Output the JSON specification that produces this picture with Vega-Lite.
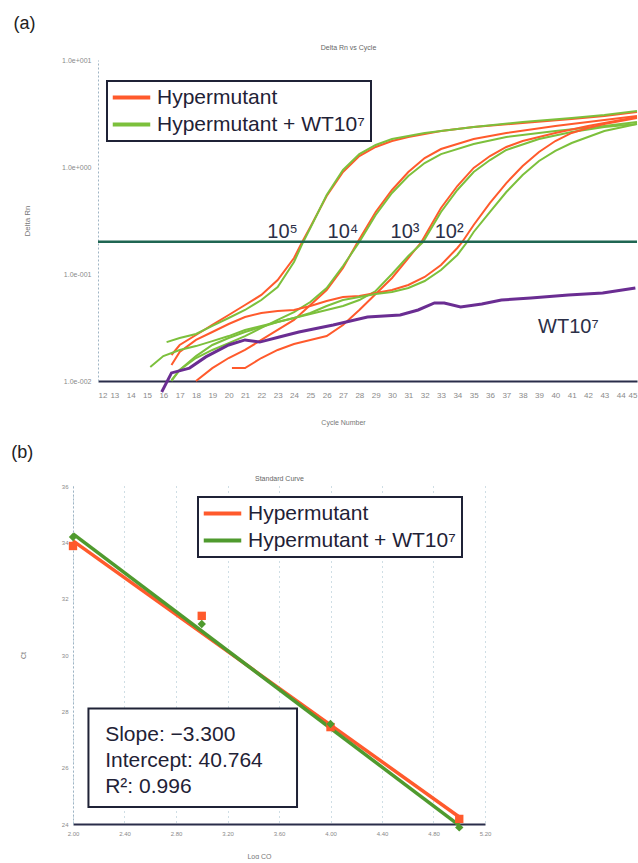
{
  "$schema": "https://vega.github.io/schema/vega-lite/v6.json",
  "background": "white",
  "padding": {"left": 11, "top": 15, "right": 0, "bottom": 0},
  "spacing": 19,
  "config": {
    "view": {"stroke": null},
    "font": "Liberation Sans",
    "axis": {"labelFont": "Liberation Sans", "titleFont": "Liberation Sans", "grid": false, "titleFontWeight": "normal"},
    "legend": {"labelFont": "Liberation Sans"},
    "title": {"font": "Liberation Sans"}
  },
  "resolve": {"scale": {"color": "independent"}, "legend": {"color": "independent"}},
  "datasets": {
    "curves": [
      {"series": "Hypermutant", "dilution": "1e5", "cycle": 16.5, "rn": 0.0175},
      {"series": "Hypermutant", "dilution": "1e5", "cycle": 17, "rn": 0.0217},
      {"series": "Hypermutant", "dilution": "1e5", "cycle": 18, "rn": 0.0269},
      {"series": "Hypermutant", "dilution": "1e5", "cycle": 19, "rn": 0.0334},
      {"series": "Hypermutant", "dilution": "1e5", "cycle": 20, "rn": 0.0414},
      {"series": "Hypermutant", "dilution": "1e5", "cycle": 21, "rn": 0.0513},
      {"series": "Hypermutant", "dilution": "1e5", "cycle": 22, "rn": 0.0637},
      {"series": "Hypermutant", "dilution": "1e5", "cycle": 23, "rn": 0.0879},
      {"series": "Hypermutant", "dilution": "1e5", "cycle": 24, "rn": 0.141},
      {"series": "Hypermutant", "dilution": "1e5", "cycle": 24.5, "rn": 0.199},
      {"series": "Hypermutant", "dilution": "1e5", "cycle": 25, "rn": 0.275},
      {"series": "Hypermutant", "dilution": "1e5", "cycle": 26, "rn": 0.536},
      {"series": "Hypermutant", "dilution": "1e5", "cycle": 27, "rn": 0.897},
      {"series": "Hypermutant", "dilution": "1e5", "cycle": 28, "rn": 1.267},
      {"series": "Hypermutant", "dilution": "1e5", "cycle": 29, "rn": 1.538},
      {"series": "Hypermutant", "dilution": "1e5", "cycle": 30, "rn": 1.75},
      {"series": "Hypermutant", "dilution": "1e5", "cycle": 31, "rn": 1.905},
      {"series": "Hypermutant", "dilution": "1e5", "cycle": 33, "rn": 2.168},
      {"series": "Hypermutant", "dilution": "1e5", "cycle": 35, "rn": 2.366},
      {"series": "Hypermutant", "dilution": "1e5", "cycle": 38, "rn": 2.576},
      {"series": "Hypermutant", "dilution": "1e5", "cycle": 41, "rn": 2.812},
      {"series": "Hypermutant", "dilution": "1e5", "cycle": 43, "rn": 3.0},
      {"series": "Hypermutant", "dilution": "1e5", "cycle": 45, "rn": 3.266},

      {"series": "Hypermutant + WT10⁷", "dilution": "1e5", "cycle": 16.2, "rn": 0.0231},
      {"series": "Hypermutant + WT10⁷", "dilution": "1e5", "cycle": 17, "rn": 0.0252},
      {"series": "Hypermutant + WT10⁷", "dilution": "1e5", "cycle": 18, "rn": 0.0275},
      {"series": "Hypermutant + WT10⁷", "dilution": "1e5", "cycle": 19, "rn": 0.0327},
      {"series": "Hypermutant + WT10⁷", "dilution": "1e5", "cycle": 20, "rn": 0.0388},
      {"series": "Hypermutant + WT10⁷", "dilution": "1e5", "cycle": 21, "rn": 0.0461},
      {"series": "Hypermutant + WT10⁷", "dilution": "1e5", "cycle": 22, "rn": 0.0571},
      {"series": "Hypermutant + WT10⁷", "dilution": "1e5", "cycle": 23, "rn": 0.0756},
      {"series": "Hypermutant + WT10⁷", "dilution": "1e5", "cycle": 24, "rn": 0.1295},
      {"series": "Hypermutant + WT10⁷", "dilution": "1e5", "cycle": 24.5, "rn": 0.19},
      {"series": "Hypermutant + WT10⁷", "dilution": "1e5", "cycle": 25, "rn": 0.269},
      {"series": "Hypermutant + WT10⁷", "dilution": "1e5", "cycle": 26, "rn": 0.547},
      {"series": "Hypermutant + WT10⁷", "dilution": "1e5", "cycle": 27, "rn": 0.938},
      {"series": "Hypermutant + WT10⁷", "dilution": "1e5", "cycle": 28, "rn": 1.321},
      {"series": "Hypermutant + WT10⁷", "dilution": "1e5", "cycle": 29, "rn": 1.607},
      {"series": "Hypermutant + WT10⁷", "dilution": "1e5", "cycle": 30, "rn": 1.828},
      {"series": "Hypermutant + WT10⁷", "dilution": "1e5", "cycle": 32, "rn": 2.08},
      {"series": "Hypermutant + WT10⁷", "dilution": "1e5", "cycle": 35, "rn": 2.366},
      {"series": "Hypermutant + WT10⁷", "dilution": "1e5", "cycle": 38, "rn": 2.636},
      {"series": "Hypermutant + WT10⁷", "dilution": "1e5", "cycle": 41, "rn": 2.871},
      {"series": "Hypermutant + WT10⁷", "dilution": "1e5", "cycle": 43, "rn": 3.062},
      {"series": "Hypermutant + WT10⁷", "dilution": "1e5", "cycle": 45, "rn": 3.334},

      {"series": "Hypermutant", "dilution": "1e4", "cycle": 18, "rn": 0.01},
      {"series": "Hypermutant", "dilution": "1e4", "cycle": 19, "rn": 0.0132},
      {"series": "Hypermutant", "dilution": "1e4", "cycle": 20, "rn": 0.0164},
      {"series": "Hypermutant", "dilution": "1e4", "cycle": 21, "rn": 0.0195},
      {"series": "Hypermutant", "dilution": "1e4", "cycle": 22, "rn": 0.0242},
      {"series": "Hypermutant", "dilution": "1e4", "cycle": 23, "rn": 0.03},
      {"series": "Hypermutant", "dilution": "1e4", "cycle": 24, "rn": 0.0372},
      {"series": "Hypermutant", "dilution": "1e4", "cycle": 25, "rn": 0.0513},
      {"series": "Hypermutant", "dilution": "1e4", "cycle": 26, "rn": 0.0708},
      {"series": "Hypermutant", "dilution": "1e4", "cycle": 27, "rn": 0.1138},
      {"series": "Hypermutant", "dilution": "1e4", "cycle": 27.9, "rn": 0.199},
      {"series": "Hypermutant", "dilution": "1e4", "cycle": 29, "rn": 0.38},
      {"series": "Hypermutant", "dilution": "1e4", "cycle": 30, "rn": 0.61},
      {"series": "Hypermutant", "dilution": "1e4", "cycle": 31, "rn": 0.897},
      {"series": "Hypermutant", "dilution": "1e4", "cycle": 32, "rn": 1.213},
      {"series": "Hypermutant", "dilution": "1e4", "cycle": 33, "rn": 1.472},
      {"series": "Hypermutant", "dilution": "1e4", "cycle": 35, "rn": 1.828},
      {"series": "Hypermutant", "dilution": "1e4", "cycle": 37, "rn": 2.08},
      {"series": "Hypermutant", "dilution": "1e4", "cycle": 40, "rn": 2.415},
      {"series": "Hypermutant", "dilution": "1e4", "cycle": 43, "rn": 2.748},
      {"series": "Hypermutant", "dilution": "1e4", "cycle": 45, "rn": 3.0},

      {"series": "Hypermutant + WT10⁷", "dilution": "1e4", "cycle": 16.5, "rn": 0.0102},
      {"series": "Hypermutant + WT10⁷", "dilution": "1e4", "cycle": 17, "rn": 0.0127},
      {"series": "Hypermutant + WT10⁷", "dilution": "1e4", "cycle": 18, "rn": 0.0164},
      {"series": "Hypermutant + WT10⁷", "dilution": "1e4", "cycle": 19, "rn": 0.0195},
      {"series": "Hypermutant + WT10⁷", "dilution": "1e4", "cycle": 20, "rn": 0.0226},
      {"series": "Hypermutant + WT10⁷", "dilution": "1e4", "cycle": 21, "rn": 0.0263},
      {"series": "Hypermutant + WT10⁷", "dilution": "1e4", "cycle": 22, "rn": 0.0313},
      {"series": "Hypermutant + WT10⁷", "dilution": "1e4", "cycle": 23, "rn": 0.0372},
      {"series": "Hypermutant + WT10⁷", "dilution": "1e4", "cycle": 24, "rn": 0.0441},
      {"series": "Hypermutant + WT10⁷", "dilution": "1e4", "cycle": 25, "rn": 0.0547},
      {"series": "Hypermutant + WT10⁷", "dilution": "1e4", "cycle": 26, "rn": 0.074},
      {"series": "Hypermutant + WT10⁷", "dilution": "1e4", "cycle": 27, "rn": 0.1188},
      {"series": "Hypermutant + WT10⁷", "dilution": "1e4", "cycle": 28, "rn": 0.199},
      {"series": "Hypermutant + WT10⁷", "dilution": "1e4", "cycle": 29, "rn": 0.356},
      {"series": "Hypermutant + WT10⁷", "dilution": "1e4", "cycle": 30, "rn": 0.5715},
      {"series": "Hypermutant + WT10⁷", "dilution": "1e4", "cycle": 31, "rn": 0.824},
      {"series": "Hypermutant + WT10⁷", "dilution": "1e4", "cycle": 32, "rn": 1.089},
      {"series": "Hypermutant + WT10⁷", "dilution": "1e4", "cycle": 33, "rn": 1.321},
      {"series": "Hypermutant + WT10⁷", "dilution": "1e4", "cycle": 35, "rn": 1.641},
      {"series": "Hypermutant + WT10⁷", "dilution": "1e4", "cycle": 37, "rn": 1.905},
      {"series": "Hypermutant + WT10⁷", "dilution": "1e4", "cycle": 40, "rn": 2.168},
      {"series": "Hypermutant + WT10⁷", "dilution": "1e4", "cycle": 43, "rn": 2.415},
      {"series": "Hypermutant + WT10⁷", "dilution": "1e4", "cycle": 45, "rn": 2.636},

      {"series": "Hypermutant", "dilution": "1e3", "cycle": 20.2, "rn": 0.0132},
      {"series": "Hypermutant", "dilution": "1e3", "cycle": 21, "rn": 0.0132},
      {"series": "Hypermutant", "dilution": "1e3", "cycle": 22, "rn": 0.0164},
      {"series": "Hypermutant", "dilution": "1e3", "cycle": 23, "rn": 0.0195},
      {"series": "Hypermutant", "dilution": "1e3", "cycle": 24, "rn": 0.0222},
      {"series": "Hypermutant", "dilution": "1e3", "cycle": 25, "rn": 0.0242},
      {"series": "Hypermutant", "dilution": "1e3", "cycle": 26, "rn": 0.0263},
      {"series": "Hypermutant", "dilution": "1e3", "cycle": 27, "rn": 0.0334},
      {"series": "Hypermutant", "dilution": "1e3", "cycle": 28, "rn": 0.0461},
      {"series": "Hypermutant", "dilution": "1e3", "cycle": 29, "rn": 0.065},
      {"series": "Hypermutant", "dilution": "1e3", "cycle": 30, "rn": 0.0918},
      {"series": "Hypermutant", "dilution": "1e3", "cycle": 31, "rn": 0.141},
      {"series": "Hypermutant", "dilution": "1e3", "cycle": 31.8, "rn": 0.199},
      {"series": "Hypermutant", "dilution": "1e3", "cycle": 33, "rn": 0.414},
      {"series": "Hypermutant", "dilution": "1e3", "cycle": 34, "rn": 0.664},
      {"series": "Hypermutant", "dilution": "1e3", "cycle": 35, "rn": 0.98},
      {"series": "Hypermutant", "dilution": "1e3", "cycle": 36, "rn": 1.267},
      {"series": "Hypermutant", "dilution": "1e3", "cycle": 37, "rn": 1.538},
      {"series": "Hypermutant", "dilution": "1e3", "cycle": 38, "rn": 1.75},
      {"series": "Hypermutant", "dilution": "1e3", "cycle": 40, "rn": 2.08},
      {"series": "Hypermutant", "dilution": "1e3", "cycle": 42, "rn": 2.415},
      {"series": "Hypermutant", "dilution": "1e3", "cycle": 45, "rn": 2.931},

      {"series": "Hypermutant + WT10⁷", "dilution": "1e3", "cycle": 16.5, "rn": 0.01},
      {"series": "Hypermutant + WT10⁷", "dilution": "1e3", "cycle": 17, "rn": 0.0127},
      {"series": "Hypermutant + WT10⁷", "dilution": "1e3", "cycle": 18, "rn": 0.0171},
      {"series": "Hypermutant + WT10⁷", "dilution": "1e3", "cycle": 19, "rn": 0.0217},
      {"series": "Hypermutant + WT10⁷", "dilution": "1e3", "cycle": 20, "rn": 0.0252},
      {"series": "Hypermutant + WT10⁷", "dilution": "1e3", "cycle": 21, "rn": 0.0287},
      {"series": "Hypermutant + WT10⁷", "dilution": "1e3", "cycle": 22, "rn": 0.032},
      {"series": "Hypermutant + WT10⁷", "dilution": "1e3", "cycle": 23, "rn": 0.0356},
      {"series": "Hypermutant + WT10⁷", "dilution": "1e3", "cycle": 24, "rn": 0.0388},
      {"series": "Hypermutant + WT10⁷", "dilution": "1e3", "cycle": 25, "rn": 0.0423},
      {"series": "Hypermutant + WT10⁷", "dilution": "1e3", "cycle": 26, "rn": 0.0461},
      {"series": "Hypermutant + WT10⁷", "dilution": "1e3", "cycle": 27, "rn": 0.0502},
      {"series": "Hypermutant + WT10⁷", "dilution": "1e3", "cycle": 28, "rn": 0.0571},
      {"series": "Hypermutant + WT10⁷", "dilution": "1e3", "cycle": 29, "rn": 0.0693},
      {"series": "Hypermutant + WT10⁷", "dilution": "1e3", "cycle": 30, "rn": 0.1},
      {"series": "Hypermutant + WT10⁷", "dilution": "1e3", "cycle": 31, "rn": 0.1473},
      {"series": "Hypermutant + WT10⁷", "dilution": "1e3", "cycle": 31.9, "rn": 0.199},
      {"series": "Hypermutant + WT10⁷", "dilution": "1e3", "cycle": 33, "rn": 0.38},
      {"series": "Hypermutant + WT10⁷", "dilution": "1e3", "cycle": 34, "rn": 0.61},
      {"series": "Hypermutant + WT10⁷", "dilution": "1e3", "cycle": 35, "rn": 0.897},
      {"series": "Hypermutant + WT10⁷", "dilution": "1e3", "cycle": 36, "rn": 1.161},
      {"series": "Hypermutant + WT10⁷", "dilution": "1e3", "cycle": 37, "rn": 1.442},
      {"series": "Hypermutant + WT10⁷", "dilution": "1e3", "cycle": 39, "rn": 1.828},
      {"series": "Hypermutant + WT10⁷", "dilution": "1e3", "cycle": 41, "rn": 2.123},
      {"series": "Hypermutant + WT10⁷", "dilution": "1e3", "cycle": 43, "rn": 2.366},
      {"series": "Hypermutant + WT10⁷", "dilution": "1e3", "cycle": 45, "rn": 2.523},

      {"series": "Hypermutant", "dilution": "1e2", "cycle": 16.5, "rn": 0.0141},
      {"series": "Hypermutant", "dilution": "1e2", "cycle": 17, "rn": 0.0187},
      {"series": "Hypermutant", "dilution": "1e2", "cycle": 18, "rn": 0.0242},
      {"series": "Hypermutant", "dilution": "1e2", "cycle": 19, "rn": 0.0287},
      {"series": "Hypermutant", "dilution": "1e2", "cycle": 20, "rn": 0.0341},
      {"series": "Hypermutant", "dilution": "1e2", "cycle": 21, "rn": 0.0396},
      {"series": "Hypermutant", "dilution": "1e2", "cycle": 22, "rn": 0.0432},
      {"series": "Hypermutant", "dilution": "1e2", "cycle": 23, "rn": 0.0451},
      {"series": "Hypermutant", "dilution": "1e2", "cycle": 24, "rn": 0.0461},
      {"series": "Hypermutant", "dilution": "1e2", "cycle": 25, "rn": 0.0502},
      {"series": "Hypermutant", "dilution": "1e2", "cycle": 26, "rn": 0.0559},
      {"series": "Hypermutant", "dilution": "1e2", "cycle": 27, "rn": 0.061},
      {"series": "Hypermutant", "dilution": "1e2", "cycle": 28, "rn": 0.0623},
      {"series": "Hypermutant", "dilution": "1e2", "cycle": 29, "rn": 0.0664},
      {"series": "Hypermutant", "dilution": "1e2", "cycle": 30, "rn": 0.0708},
      {"series": "Hypermutant", "dilution": "1e2", "cycle": 31, "rn": 0.0789},
      {"series": "Hypermutant", "dilution": "1e2", "cycle": 32, "rn": 0.0938},
      {"series": "Hypermutant", "dilution": "1e2", "cycle": 33, "rn": 0.1214},
      {"series": "Hypermutant", "dilution": "1e2", "cycle": 34, "rn": 0.175},
      {"series": "Hypermutant", "dilution": "1e2", "cycle": 34.3, "rn": 0.199},
      {"series": "Hypermutant", "dilution": "1e2", "cycle": 35, "rn": 0.287},
      {"series": "Hypermutant", "dilution": "1e2", "cycle": 36, "rn": 0.461},
      {"series": "Hypermutant", "dilution": "1e2", "cycle": 37, "rn": 0.708},
      {"series": "Hypermutant", "dilution": "1e2", "cycle": 38, "rn": 1.021},
      {"series": "Hypermutant", "dilution": "1e2", "cycle": 39, "rn": 1.38},
      {"series": "Hypermutant", "dilution": "1e2", "cycle": 40, "rn": 1.75},
      {"series": "Hypermutant", "dilution": "1e2", "cycle": 41, "rn": 2.08},
      {"series": "Hypermutant", "dilution": "1e2", "cycle": 42, "rn": 2.312},
      {"series": "Hypermutant", "dilution": "1e2", "cycle": 43, "rn": 2.523},
      {"series": "Hypermutant", "dilution": "1e2", "cycle": 45, "rn": 2.871},

      {"series": "Hypermutant + WT10⁷", "dilution": "1e2", "cycle": 15.2, "rn": 0.0135},
      {"series": "Hypermutant + WT10⁷", "dilution": "1e2", "cycle": 16, "rn": 0.0171},
      {"series": "Hypermutant + WT10⁷", "dilution": "1e2", "cycle": 17, "rn": 0.0195},
      {"series": "Hypermutant + WT10⁷", "dilution": "1e2", "cycle": 18, "rn": 0.0212},
      {"series": "Hypermutant + WT10⁷", "dilution": "1e2", "cycle": 19, "rn": 0.0236},
      {"series": "Hypermutant + WT10⁷", "dilution": "1e2", "cycle": 20, "rn": 0.0263},
      {"series": "Hypermutant + WT10⁷", "dilution": "1e2", "cycle": 21, "rn": 0.03},
      {"series": "Hypermutant + WT10⁷", "dilution": "1e2", "cycle": 22, "rn": 0.0327},
      {"series": "Hypermutant + WT10⁷", "dilution": "1e2", "cycle": 23, "rn": 0.0356},
      {"series": "Hypermutant + WT10⁷", "dilution": "1e2", "cycle": 24, "rn": 0.0388},
      {"series": "Hypermutant + WT10⁷", "dilution": "1e2", "cycle": 25, "rn": 0.0432},
      {"series": "Hypermutant + WT10⁷", "dilution": "1e2", "cycle": 26, "rn": 0.0502},
      {"series": "Hypermutant + WT10⁷", "dilution": "1e2", "cycle": 27, "rn": 0.0571},
      {"series": "Hypermutant + WT10⁷", "dilution": "1e2", "cycle": 28, "rn": 0.061},
      {"series": "Hypermutant + WT10⁷", "dilution": "1e2", "cycle": 29, "rn": 0.065},
      {"series": "Hypermutant + WT10⁷", "dilution": "1e2", "cycle": 30, "rn": 0.0679},
      {"series": "Hypermutant + WT10⁷", "dilution": "1e2", "cycle": 31, "rn": 0.074},
      {"series": "Hypermutant + WT10⁷", "dilution": "1e2", "cycle": 32, "rn": 0.086},
      {"series": "Hypermutant + WT10⁷", "dilution": "1e2", "cycle": 33, "rn": 0.109},
      {"series": "Hypermutant + WT10⁷", "dilution": "1e2", "cycle": 34, "rn": 0.1506},
      {"series": "Hypermutant + WT10⁷", "dilution": "1e2", "cycle": 34.6, "rn": 0.199},
      {"series": "Hypermutant + WT10⁷", "dilution": "1e2", "cycle": 35, "rn": 0.247},
      {"series": "Hypermutant + WT10⁷", "dilution": "1e2", "cycle": 36, "rn": 0.38},
      {"series": "Hypermutant + WT10⁷", "dilution": "1e2", "cycle": 37, "rn": 0.584},
      {"series": "Hypermutant + WT10⁷", "dilution": "1e2", "cycle": 38, "rn": 0.841},
      {"series": "Hypermutant + WT10⁷", "dilution": "1e2", "cycle": 39, "rn": 1.138},
      {"series": "Hypermutant + WT10⁷", "dilution": "1e2", "cycle": 40, "rn": 1.413},
      {"series": "Hypermutant + WT10⁷", "dilution": "1e2", "cycle": 41, "rn": 1.675},
      {"series": "Hypermutant + WT10⁷", "dilution": "1e2", "cycle": 42, "rn": 1.905},
      {"series": "Hypermutant + WT10⁷", "dilution": "1e2", "cycle": 43, "rn": 2.168},
      {"series": "Hypermutant + WT10⁷", "dilution": "1e2", "cycle": 45, "rn": 2.523}
    ],
    "wt": [
      {"cycle": 15.9, "rn": 0.0079},
      {"cycle": 16.5, "rn": 0.0119},
      {"cycle": 17.6, "rn": 0.0132},
      {"cycle": 18.6, "rn": 0.0168},
      {"cycle": 20, "rn": 0.0217},
      {"cycle": 21, "rn": 0.0242},
      {"cycle": 21.9, "rn": 0.0231},
      {"cycle": 23.1, "rn": 0.0258},
      {"cycle": 24.3, "rn": 0.0287},
      {"cycle": 26.4, "rn": 0.0334},
      {"cycle": 28.5, "rn": 0.0396},
      {"cycle": 30.5, "rn": 0.0414},
      {"cycle": 31.6, "rn": 0.0461},
      {"cycle": 32.6, "rn": 0.0536},
      {"cycle": 33.2, "rn": 0.0536},
      {"cycle": 34.2, "rn": 0.0492},
      {"cycle": 35.5, "rn": 0.0524},
      {"cycle": 36.7, "rn": 0.0571},
      {"cycle": 38.5, "rn": 0.0597},
      {"cycle": 40.8, "rn": 0.0637},
      {"cycle": 42.9, "rn": 0.0664},
      {"cycle": 44.9, "rn": 0.074}
    ],
    "labelsA": [
      {"label": "10⁵", "cycle": 23.3, "rn": 0.247},
      {"label": "10⁴", "cycle": 27.0, "rn": 0.247},
      {"label": "10³", "cycle": 30.8, "rn": 0.247},
      {"label": "10²", "cycle": 33.5, "rn": 0.247},
      {"label": "WT10⁷", "cycle": 40.8, "rn": 0.032}
    ],
    "std": [
      {"series": "Hypermutant", "logq": 2, "ct": 33.87},
      {"series": "Hypermutant", "logq": 3, "ct": 31.39},
      {"series": "Hypermutant", "logq": 4, "ct": 27.44},
      {"series": "Hypermutant", "logq": 5, "ct": 24.18},
      {"series": "Hypermutant + WT10⁷", "logq": 2, "ct": 34.19},
      {"series": "Hypermutant + WT10⁷", "logq": 3, "ct": 31.1},
      {"series": "Hypermutant + WT10⁷", "logq": 4, "ct": 27.55},
      {"series": "Hypermutant + WT10⁷", "logq": 5, "ct": 23.88}
    ],
    "fit": [
      {"series": "Hypermutant", "logq": 2, "ct": 34.05},
      {"series": "Hypermutant", "logq": 5, "ct": 24.25},
      {"series": "Hypermutant + WT10⁷", "logq": 2, "ct": 34.3},
      {"series": "Hypermutant + WT10⁷", "logq": 5, "ct": 23.95}
    ]
  },
  "vconcat": [
    {
      "title": {"text": "(a)", "anchor": "start", "frame": "bounds", "fontSize": 18, "fontWeight": "normal", "color": "#222222", "offset": 10, "dx": -10},
      "width": 539,
      "height": 321,
      "resolve": {"axis": {"x": "independent"}},
      "layer": [
        {
          "data": {"name": "curves"},
          "mark": {"type": "line", "strokeWidth": 2},
          "encoding": {
            "x": {"field": "cycle", "type": "quantitative",
              "scale": {"domain": [12, 45], "nice": false, "zero": false},
              "axis": {"title": "Cycle Number", "titleX": 245, "values": [12,13,14,15,16,17,18,19,20,21,22,23,24,25,26,27,28,29,30,31,32,33,34,35,36,37,38,39,40,41,42,43,44,45],
                "labelFontSize": 8, "labelColor": "#8a8a8a", "ticks": false, "labelPadding": 10, "labelFlush": true, "labelOverlap": false,
                "domainColor": "#2a2d4a", "domainWidth": 2, "titleFontSize": 7, "titleColor": "#777777", "titlePadding": 19}},
            "y": {"field": "rn", "type": "quantitative",
              "scale": {"type": "log", "domain": [0.01, 10], "nice": false},
              "axis": {"title": "Delta Rn", "values": [0.01, 0.1, 1, 10],
                "labelExpr": "datum.value >= 1 ? '1.0e+00' + format(log(datum.value)/LN10, '.0f') : '1.0e-00' + format(-log(datum.value)/LN10, '.0f')",
                "labelFontSize": 7, "labelColor": "#8a8a8a", "ticks": false, "labelPadding": 7,
                "domainColor": "#9fb4c4", "domainDash": [2, 2], "domainWidth": 1,
                "titleFontSize": 8, "titleColor": "#777777", "titlePadding": 30}},
            "color": {"field": "series", "type": "nominal",
              "scale": {"domain": ["Hypermutant", "Hypermutant + WT10⁷"], "range": ["#ff5a2c", "#7cc03c"]},
              "legend": {"title": null, "orient": "none", "legendX": 9, "legendY": 21,
                "symbolType": "M-2.5,0H2.5", "symbolStrokeWidth": 4, "symbolSize": 225, "symbolOffset": 8,
                "labelFontSize": 21, "labelColor": "#1f2236", "labelOffset": 15, "labelLimit": 400,
                "strokeColor": "#1f2236", "fillColor": "white", "padding": 6, "rowPadding": 5,
                "encode": {"legend": {"update": {"strokeWidth": {"value": 2}}}}}},
            "detail": {"field": "dilution"}
          }
        },
        {
          "data": {"name": "wt"},
          "mark": {"type": "line", "color": "#6a2d92", "strokeWidth": 3},
          "encoding": {
            "x": {"field": "cycle", "type": "quantitative", "axis": null},
            "y": {"field": "rn", "type": "quantitative"}
          }
        },
        {
          "data": {"values": [{}]},
          "mark": {"type": "rule", "color": "#1f6652", "strokeWidth": 2.5},
          "encoding": {"y": {"datum": 0.2}}
        },
        {
          "data": {"name": "labelsA"},
          "mark": {"type": "text", "fontSize": 20, "color": "#2b2f47", "baseline": "middle", "align": "center"},
          "encoding": {
            "x": {"field": "cycle", "type": "quantitative",
              "axis": {"orient": "top", "title": "Delta Rn vs Cycle", "titleX": 250, "labels": false, "ticks": false, "domain": false,
                "titleFontSize": 7, "titleColor": "#666666", "titlePadding": 10}},
            "y": {"field": "rn", "type": "quantitative"},
            "text": {"field": "label"}
          }
        }
      ]
    },
    {
      "title": {"text": "(b)", "anchor": "start", "frame": "bounds", "fontSize": 18, "fontWeight": "normal", "color": "#222222", "offset": 12, "dx": -8},
      "width": 387,
      "height": 338,
      "resolve": {"axis": {"x": "independent"}},
      "layer": [
        {
          "data": {"name": "fit"},
          "mark": {"type": "line", "strokeWidth": 3.5},
          "encoding": {
            "x": {"field": "logq", "type": "quantitative",
              "scale": {"domain": [2, 5.2], "range": [-25, 387], "nice": false, "zero": false},
              "axis": {"title": "Log CO", "titleX": 161, "values": [2, 2.4, 2.8, 3.2, 3.6, 4, 4.4, 4.8, 5.2], "format": ".2f",
                "labelFontSize": 6, "labelColor": "#8a8a8a", "ticks": false, "labelPadding": 6, "labelFlush": false,
                "grid": true, "gridColor": "#9fbccb", "gridDash": [1, 4], "gridWidth": 1,
                "domainColor": "#2a2d4a", "domainWidth": 2, "titleFontSize": 7, "titleColor": "#777777", "titlePadding": 16}},
            "y": {"field": "ct", "type": "quantitative",
              "scale": {"domain": [24, 36], "nice": false, "zero": false},
              "axis": {"title": "Ct", "values": [24, 26, 28, 30, 32, 34, 36], "offset": 25,
                "labelFontSize": 6, "labelColor": "#8a8a8a", "ticks": false, "labelPadding": 5,
                "domainColor": "#9fb4c4", "domainDash": [2, 2], "domainWidth": 1,
                "titleFontSize": 7, "titleColor": "#777777", "titlePadding": 35}},
            "color": {"field": "series", "type": "nominal",
              "scale": {"domain": ["Hypermutant", "Hypermutant + WT10⁷"], "range": ["#ff5a2c", "#4f9a2e"]},
              "legend": {"title": null, "orient": "none", "legendX": 100, "legendY": 11,
                "symbolType": "M-2.5,0H2.5", "symbolStrokeWidth": 4, "symbolSize": 225, "symbolOffset": 8,
                "labelFontSize": 21, "labelColor": "#1f2236", "labelOffset": 15, "labelLimit": 400,
                "strokeColor": "#1f2236", "fillColor": "white", "padding": 6, "rowPadding": 5,
                "encode": {"legend": {"update": {"strokeWidth": {"value": 2}}}}}}
          }
        },
        {
          "data": {"name": "std"},
          "mark": {"type": "point", "filled": true, "size": 70, "opacity": 1},
          "encoding": {
            "x": {"field": "logq", "type": "quantitative",
              "axis": {"orient": "top", "title": "Standard Curve", "labels": false, "ticks": false, "domain": false, "grid": false,
                "titleFontSize": 7, "titleColor": "#666666", "titlePadding": 5}},
            "y": {"field": "ct", "type": "quantitative"},
            "color": {"field": "series", "type": "nominal", "legend": null},
            "shape": {"field": "series", "type": "nominal", "scale": {"range": ["square", "diamond"]}, "legend": null}
          }
        },
        {
          "data": {"values": [{}]},
          "mark": {"type": "rect", "fill": "white", "stroke": "#1f2236", "strokeWidth": 2},
          "encoding": {
            "x": {"datum": 2.12, "type": "quantitative", "axis": null},
            "x2": {"datum": 3.74},
            "y": {"datum": 28.1, "type": "quantitative"},
            "y2": {"datum": 24.6}
          }
        },
        {
          "data": {"values": [{}]},
          "mark": {"type": "text", "text": ["Slope: −3.300", "Intercept: 40.764", "R²: 0.996"], "fontSize": 21, "lineHeight": 26, "align": "left", "baseline": "top", "color": "#1f2236"},
          "encoding": {
            "x": {"datum": 2.25, "type": "quantitative", "axis": null},
            "y": {"datum": 27.55, "type": "quantitative"}
          }
        }
      ]
    }
  ]
}
